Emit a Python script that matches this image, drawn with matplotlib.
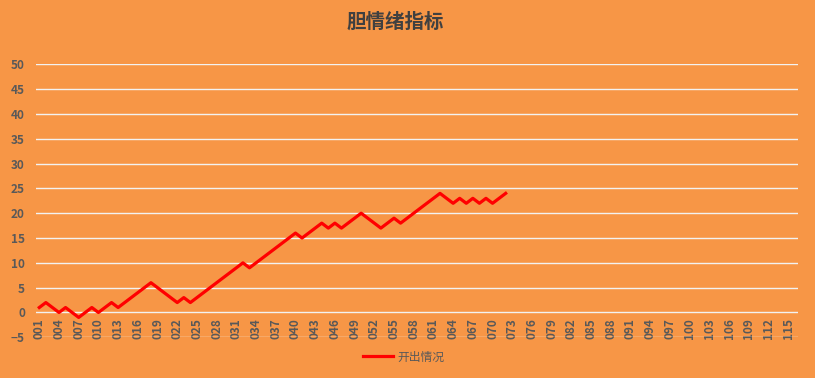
import numpy as np
import matplotlib.pyplot as plt

plt.rcParams['font.family'] = ['Noto Sans CJK SC', 'DejaVu Sans']

# 期数 001..116, data only for first 72
periods = [f"{i:03d}" for i in range(1, 117)]
values = [1, 2, 1, 0, 1, 0, -1, 0, 1, 0, 1, 2, 1, 2, 3, 4, 5, 6, 5, 4,
          3, 2, 3, 2, 3, 4, 5, 6, 7, 8, 9, 10, 9, 10, 11, 12, 13, 14, 15, 16,
          15, 16, 17, 18, 17, 18, 17, 18, 19, 20, 19, 18, 17, 18, 19, 18, 19, 20, 21, 22,
          23, 24, 23, 22, 23, 22, 23, 22, 23, 22, 23, 24]
series_name = "开出情况"
title = "胆情绪指标"

bg = "#F79646"
txt = "#595959"

fig = plt.figure(figsize=(8.15, 3.78), dpi=100, facecolor=bg)
ax = fig.add_axes([36/815, 1 - 337.3/378, (798 - 36)/815, (337.3 - 64.3)/378])
ax.set_facecolor(bg)

x = np.arange(len(periods))
ax.plot(x[:len(values)], values, color="#FF0000", lw=2.3, label=series_name, zorder=3)

for s in ax.spines.values():
    s.set_visible(False)
ax.spines['bottom'].set_position(('data', 0))

ax.set_xlim(-0.5, len(periods) - 0.5)
ax.set_ylim(-5, 50)
ax.set_yticks(np.arange(-5, 51, 5))
ax.grid(axis='y', color='#F2F2F2', lw=1.0)
ax.set_axisbelow(True)

ax.set_xticks(x[::3])
ax.set_xticklabels(periods[::3], rotation=90, fontsize=8.5, color=txt, fontweight='bold')
for lab in ax.get_yticklabels():
    lab.set_fontsize(8.5)
    lab.set_color(txt)
    lab.set_fontweight('bold')

ax.tick_params(axis='both', length=0)
ax.tick_params(axis='x', pad=4)
ax.tick_params(axis='y', pad=8)

fig.text(395/815, 1 - 22/378, title, ha='center', va='center', fontsize=14,
         fontweight='bold', color='#404040')

leg = fig.legend(loc='center', bbox_to_anchor=(404/815, 1 - 357/378), frameon=False,
                 fontsize=8.5, handlelength=2.5, handletextpad=0.4)
for t in leg.get_texts():
    t.set_color(txt)

fig.savefig("out.png", dpi=100, facecolor=bg)
